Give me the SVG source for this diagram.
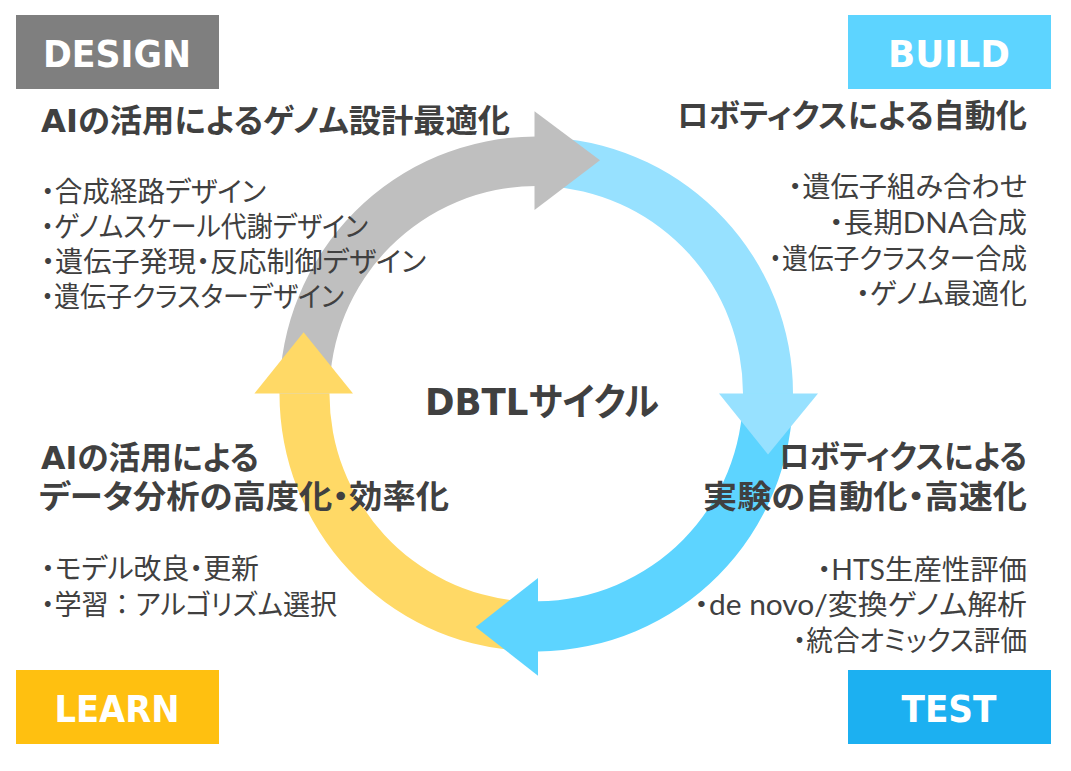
<svg xmlns="http://www.w3.org/2000/svg" width="1071" height="771" viewBox="0 0 1071 771">
<style>
text{font-family:"Noto Sans CJK JP","Noto Sans",sans-serif;fill:#404040;font-feature-settings:"palt"}
.h{font-size:32px;font-weight:700}
.b{font-size:28px;font-weight:400}
.t{font-family:"DejaVu Sans","Open Sans",sans-serif;font-size:37px;font-weight:700;fill:#fff;text-anchor:middle}
.c{font-size:38px;font-weight:700}
.l{font-family:"DejaVu Sans",sans-serif}
.g{font-family:"Lato","Inter",sans-serif}
.n{font-feature-settings:normal}
</style>
<rect width="1071" height="771" fill="#fff"/>
<g id="connectors">
<path d="M555 137.7A257 256.5 0 0 1 793 393.6H743A207 207.5 0 0 0 555 187Z" fill="#97e1ff"/>
<path d="M793 393.6A257 257.5 0 0 1 538 651.4V601.3A207 207.5 0 0 0 743 393.6Z" fill="#5dd4ff"/>
<path d="M520 650.9A256.5 257.5 0 0 1 279.5 393.6H329.5A207 207.5 0 0 0 520 601Z" fill="#ffd966"/>
<path d="M279.5 393.6A256.5 257.5 0 0 1 536 136.5V186A207 207.5 0 0 0 329.5 393.6Z" fill="#bfbfbf"/>
<polygon points="534.5,111.3 600,160.2 534.5,209.9" fill="#bfbfbf"/>
<polygon points="719,393.6 818,393.6 768,454.5" fill="#97e1ff"/>
<polygon points="475.7,627 538,578 538,675.8" fill="#5dd4ff"/>
<polygon points="303.6,332.2 254.4,393.6 353,393.6" fill="#ffd966"/>
</g>
<g id="design">
<rect x="16" y="15" width="203" height="74" fill="#7f7f7f"/>
<text class="t" x="117" y="67" textLength="148" lengthAdjust="spacingAndGlyphs">DESIGN</text>
<text class="h" x="41" y="132" textLength="469" lengthAdjust="spacingAndGlyphs"><tspan class="l">AI</tspan>の活用によるゲノム設計最適化</text>
<text class="b" x="41" y="202" textLength="225" lengthAdjust="spacingAndGlyphs">・合成経路デザイン</text>
<text class="b" x="41" y="237" textLength="327" lengthAdjust="spacingAndGlyphs">・ゲノムスケール代謝デザイン</text>
<text class="b" x="41" y="272" textLength="385" lengthAdjust="spacingAndGlyphs">・遺伝子発現・反応制御デザイン</text>
<text class="b" x="41" y="307" textLength="303" lengthAdjust="spacingAndGlyphs">・遺伝子クラスターデザイン</text>
</g>
<g id="build">
<rect x="848" y="15" width="203" height="74" fill="#5dd4ff"/>
<text class="t" x="949" y="67" textLength="122" lengthAdjust="spacingAndGlyphs">BUILD</text>
<text class="h" x="677" y="127" textLength="350" lengthAdjust="spacingAndGlyphs">ロボティクスによる自動化</text>
<text class="b" x="788" y="197" textLength="239" lengthAdjust="spacingAndGlyphs">・遺伝子組み合わせ</text>
<text class="b" x="829" y="233" textLength="198" lengthAdjust="spacingAndGlyphs">・長期<tspan class="g">DNA</tspan>合成</text>
<text class="b" x="769" y="269" textLength="258" lengthAdjust="spacingAndGlyphs">・遺伝子クラスター合成</text>
<text class="b" x="856" y="304" textLength="171" lengthAdjust="spacingAndGlyphs">・ゲノム最適化</text>
</g>
<g id="test">
<rect x="848" y="670" width="203" height="74" fill="#1cb0f1"/>
<text class="t" x="949" y="722" textLength="95" lengthAdjust="spacingAndGlyphs">TEST</text>
<text class="h" x="779" y="468" textLength="248" lengthAdjust="spacingAndGlyphs">ロボティクスによる</text>
<text class="h" x="703" y="508" textLength="324" lengthAdjust="spacingAndGlyphs">実験の自動化・高速化</text>
<text class="b" x="817" y="580" textLength="210" lengthAdjust="spacingAndGlyphs">・<tspan class="g">HTS</tspan>生産性評価</text>
<text class="b" x="694" y="615" textLength="333" lengthAdjust="spacingAndGlyphs">・<tspan class="g">de novo/</tspan>変換ゲノム解析</text>
<text class="b" x="793" y="651" textLength="234" lengthAdjust="spacingAndGlyphs">・統合オミックス評価</text>
</g>
<g id="learn">
<rect x="16" y="670" width="203" height="74" fill="#ffc010"/>
<text class="t" x="117" y="722" textLength="125" lengthAdjust="spacingAndGlyphs">LEARN</text>
<text class="h" x="41" y="469" textLength="218" lengthAdjust="spacingAndGlyphs"><tspan class="l">AI</tspan>の活用による</text>
<text class="h" x="39" y="508" textLength="410" lengthAdjust="spacingAndGlyphs">データ分析の高度化・効率化</text>
<text class="b" x="41" y="579" textLength="218" lengthAdjust="spacingAndGlyphs">・モデル改良・更新</text>
<text class="b" x="41" y="615" textLength="296" lengthAdjust="spacingAndGlyphs">・学習<tspan class="n">：</tspan>アルゴリズム選択</text>
</g>
<g id="center">
<text class="c" x="425" y="415" textLength="234" lengthAdjust="spacingAndGlyphs"><tspan class="l">DBTL</tspan>サイクル</text>
</g>
</svg>
